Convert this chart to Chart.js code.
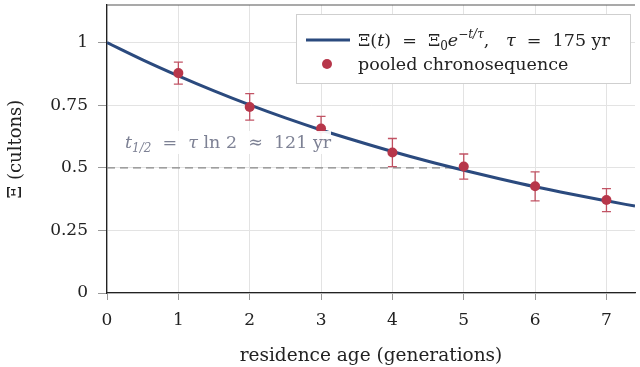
<!DOCTYPE html>
<html>
<head>
<meta charset="utf-8">
<script src="https://cdn.jsdelivr.net/npm/chart.js@4"></script>
<style>
  html, body { margin: 0; padding: 0; background: #fff; }
  #wrap { width: 640px; height: 367px; }
</style>
</head>
<body>
<div id="wrap"><canvas id="decayChart" width="640" height="367"></canvas></div>
<script>
var ageGen = [1, 2, 3, 4, 5, 6, 7];
var xiObs = [0.878, 0.743, 0.657, 0.561, 0.505, 0.426, 0.371];
var xiErr = [0.044, 0.053, 0.048, 0.056, 0.050, 0.058, 0.046];

// fitted curve at the drawn points
var fitAge = [0, 0.5, 1, 1.5, 2, 2.5, 3, 3.5, 4, 4.5, 5, 5.5, 6, 6.5, 7, 7.4];
var fitXi = [1.0, 0.931, 0.867, 0.807, 0.751, 0.699, 0.651, 0.607, 0.565, 0.526, 0.490, 0.456, 0.424, 0.395, 0.368, 0.347];

// half-life reference line
var halfAge = [0, 4.85];
var halfXi = [0.5, 0.5];

var xTicks = [0, 1, 2, 3, 4, 5, 6, 7];
var yTicks = [0, 0.25, 0.5, 0.75, 1];

var BLUE = '#2b4a7e';
var RED = '#b7364a';
var SERIF = '"DejaVu Serif", "Liberation Serif", serif';

function toXY(xs, ys) {
    return xs.map(function (x, i) { return { x: x, y: ys[i] }; });
}

// draws a run of text pieces: [text, font, dy]
function drawRun(ctx, x, y, parts, color) {
    ctx.fillStyle = color;
    ctx.textBaseline = 'alphabetic';
    ctx.textAlign = 'left';
    parts.forEach(function (p) {
        ctx.font = p[1];
        ctx.fillText(p[0], x, y + (p[2] || 0));
        x += ctx.measureText(p[0]).width;
    });
    return x;
}

function noPad(scale) {
    scale.paddingTop = 0;
    scale.paddingBottom = 0;
    scale.paddingLeft = 0;
    scale.paddingRight = 0;
}

var extras = {
    id: 'extras',
    afterDatasetDraw: function (chart, args) {
        // error bars go between the curve and the dots
        if (args.index !== 1) return;
        var ctx = chart.ctx;
        var xs = chart.scales.x, ys = chart.scales.y;
        ctx.save();
        ctx.strokeStyle = 'rgba(183,54,74,0.85)';
        ctx.lineWidth = 1.3;
        ageGen.forEach(function (a, i) {
            var px = xs.getPixelForValue(a);
            var top = ys.getPixelForValue(xiObs[i] + xiErr[i]);
            var bot = ys.getPixelForValue(xiObs[i] - xiErr[i]);
            ctx.beginPath();
            ctx.moveTo(px, top); ctx.lineTo(px, bot);
            ctx.moveTo(px - 4.5, top); ctx.lineTo(px + 4.5, top);
            ctx.moveTo(px - 4.5, bot); ctx.lineTo(px + 4.5, bot);
            ctx.stroke();
        });
        ctx.restore();
    },
    afterDraw: function (chart) {
        var ctx = chart.ctx;
        var area = chart.chartArea;
        ctx.save();

        // top frame line
        ctx.strokeStyle = '#555';
        ctx.lineWidth = 1.2;
        ctx.beginPath();
        ctx.moveTo(area.left, area.top);
        ctx.lineTo(area.right, area.top);
        ctx.stroke();

        // half-life annotation
        var gray = '#7d8194';
        var it = 'italic 17.5px ' + SERIF, rm = '17.5px ' + SERIF, sub = 'italic 12px ' + SERIF;
        ctx.fillStyle = 'rgba(255,255,255,0.92)';
        ctx.fillRect(120, 131, 211, 23);
        drawRun(ctx, 125, 148, [
            ['t', it], ['1/2', sub, 4], ['  =  ', rm], ['τ', it],
            [' ln 2  ≈  121 yr', rm]
        ], gray);

        // legend
        var lx = 296, ly = 14, lw = 334, lh = 69;
        ctx.fillStyle = '#fff';
        ctx.fillRect(lx, ly, lw, lh);
        ctx.strokeStyle = '#cfcfcf';
        ctx.lineWidth = 1;
        ctx.strokeRect(lx + 0.5, ly + 0.5, lw, lh);

        var lrm = '17.5px ' + SERIF, lit = 'italic 17.5px ' + SERIF;
        ctx.strokeStyle = BLUE;
        ctx.lineWidth = 3;
        ctx.beginPath();
        ctx.moveTo(306, 40); ctx.lineTo(350, 40);
        ctx.stroke();
        drawRun(ctx, 358, 46, [
            ['Ξ(', lrm], ['t', lit], [')  =  Ξ', lrm], ['0', '12px ' + SERIF, 4],
            ['e', lit], ['−t/τ', 'italic 12px ' + SERIF, -8],
            [',   ', lrm], ['τ', lit], ['  =  175 yr', lrm]
        ], '#222');

        ctx.fillStyle = RED;
        ctx.beginPath();
        ctx.arc(327, 64, 5, 0, Math.PI * 2);
        ctx.fill();
        drawRun(ctx, 358, 70, [['pooled chronosequence', lrm]], '#222');

        ctx.restore();
    }
};

var ctx = document.getElementById('decayChart').getContext('2d');

new Chart(ctx, {
    type: 'scatter',
    data: {
        datasets: [
            {
                type: 'scatter',
                label: 'pooled chronosequence',
                data: toXY(ageGen, xiObs),
                backgroundColor: RED,
                borderWidth: 0,
                pointRadius: 5
            },
            {
                type: 'line',
                label: 'fit',
                data: toXY(fitAge, fitXi),
                borderColor: BLUE,
                borderWidth: 3,
                pointRadius: 0,
                fill: false,
                cubicInterpolationMode: 'monotone'
            },
            {
                type: 'line',
                label: 'half-life',
                data: toXY(halfAge, halfXi),
                borderColor: '#888',
                borderWidth: 1.2,
                borderDash: [8, 5],
                pointRadius: 0,
                fill: false
            }
        ]
    },
    options: {
        responsive: false,
        animation: false,
        layout: { padding: { top: 4, right: 0, left: 0, bottom: 0 } },
        plugins: {
            legend: { display: false },
            tooltip: { enabled: false }
        },
        scales: {
            x: {
                type: 'linear',
                min: 0,
                max: 7.4,
                afterBuildTicks: function (scale) {
                    scale.ticks = xTicks.map(function (v) { return { value: v }; });
                },
                afterFit: function (scale) { scale.height = 74; noPad(scale); },
                grid: { color: '#e3e3e3', tickColor: '#999', tickLength: 7 },
                border: { color: '#222', width: 1.3 },
                ticks: {
                    color: '#222', padding: 10, font: { family: SERIF, size: 17 },
                    callback: function (v) { return String(v); }
                },
                title: {
                    display: true,
                    text: 'residence age (generations)',
                    color: '#222',
                    padding: { top: 6, bottom: 0 },
                    font: { family: SERIF, size: 18.5 }
                }
            },
            y: {
                type: 'linear',
                min: 0,
                max: 1.15,
                afterBuildTicks: function (scale) {
                    scale.ticks = yTicks.map(function (v) { return { value: v }; });
                },
                afterFit: function (scale) { scale.width = 107; noPad(scale); },
                grid: { color: '#e3e3e3', tickColor: '#999', tickLength: 9 },
                border: { color: '#222', width: 1.3 },
                ticks: {
                    color: '#222', padding: 10, font: { family: SERIF, size: 17 },
                    callback: function (v) { return String(v); }
                },
                title: {
                    display: true,
                    text: 'Ξ (cultons)',
                    color: '#222',
                    padding: { top: 6, bottom: 0 },
                    font: { family: SERIF, size: 18 }
                }
            }
        }
    },
    plugins: [extras]
});
</script>
</body>
</html>
